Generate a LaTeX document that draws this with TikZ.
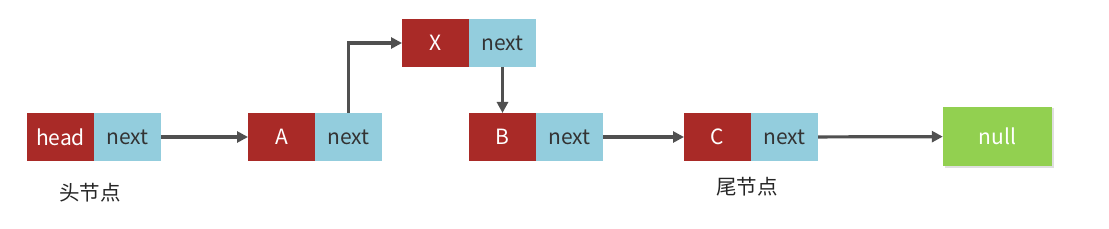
\documentclass[tikz,border=0pt]{standalone}
\usepackage{fontspec}
\newfontfamily\cjk{Noto Sans CJK SC}
\usepackage{xcolor}
\usetikzlibrary{arrows.meta,positioning,shadows}

\definecolor{cellred}{HTML}{A92A27}
\definecolor{cellblue}{HTML}{93CDDD}
\definecolor{nullgreen}{HTML}{92D050}
\definecolor{linkgray}{HTML}{505050}

\begin{document}
\begin{tikzpicture}[
x=1pt,
y=1pt,
every node/.style={font=\cjk\fontsize{21}{24}\selectfont},
val/.style={rectangle,fill=cellred,text=white,minimum width=67pt,minimum height=48pt,inner sep=0pt,outer sep=0pt},
ptr/.style={rectangle,fill=cellblue,text=black!80,minimum width=67pt,minimum height=48pt,inner sep=0pt,outer sep=0pt},
nil/.style={rectangle,fill=nullgreen,text=white,minimum width=109pt,minimum height=59pt,inner sep=0pt,drop shadow={shadow xshift=1.5pt,shadow yshift=-1.5pt,opacity=0.25}},
link/.style={-{Triangle[length=11pt,width=11pt]},line width=3.2pt,draw=linkgray},
nodename/.style={text=black!85,font=\cjk\fontsize{20.5}{24}\selectfont}
]
\useasboundingbox[fill=white] (0,0) rectangle (1109,228);
\node[val] (headval) at (60.5,91) {head};
\node[ptr,right=0pt of headval] (headnext) {next};
\node[val] (aval) at (281.5,91) {A};
\node[ptr,right=0pt of aval] (anext) {next};
\node[val] (xval) at (435.5,185) {X};
\node[ptr,right=0pt of xval] (xnext) {next};
\node[val] (bval) at (502.5,91) {B};
\node[ptr,right=0pt of bval] (bnext) {next};
\node[val] (cval) at (717.5,91) {C};
\node[ptr,right=0pt of cval] (cnext) {next};
\node[nil] (nullnode) at (997.5,91.5) {null};
\node[nodename] (headcap) at (90,35) {头节点};
\node[nodename] (tailcap) at (747,41) {尾节点};

\draw[link] (headnext) -- (aval);
\draw[link] (anext.north) |- (xval.west);
\draw[link] (xnext.south) -- (bval.north);
\draw[link] (bnext) -- (cval);
\draw[link] (cnext) -- (nullnode);
\end{tikzpicture}
\end{document}
